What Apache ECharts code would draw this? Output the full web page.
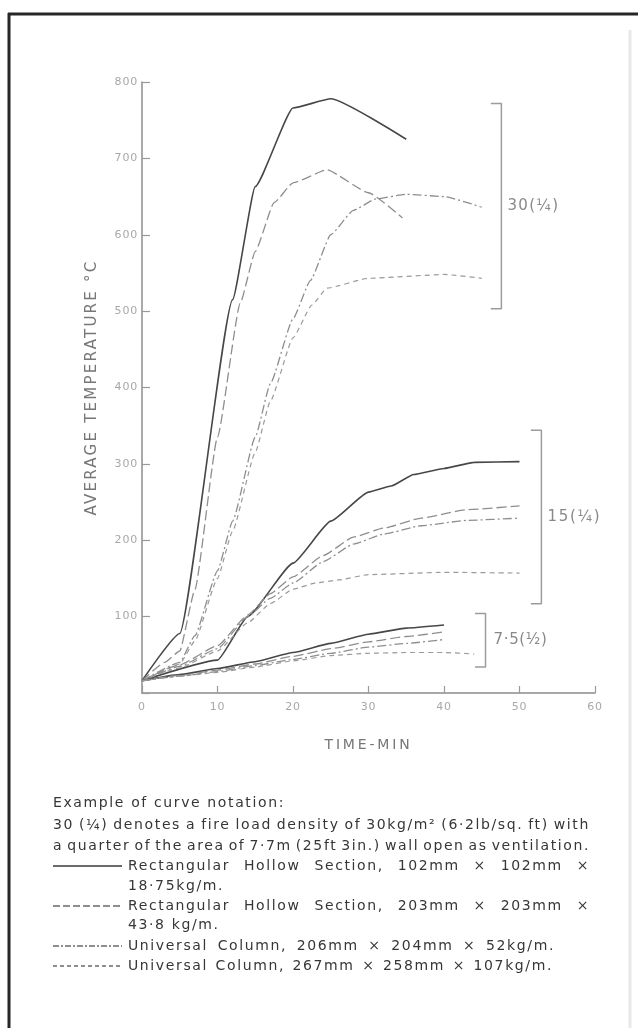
<!DOCTYPE html>
<html><head><meta charset="utf-8">
<script src="https://cdn.jsdelivr.net/npm/echarts@6/dist/echarts.min.js"></script>
<style>html,body{margin:0;padding:0;background:#fff;}#chart{width:638px;height:1028px;}</style>
</head><body><div id="chart"></div>
<script>
// ---------------- DATA ----------------
// time (min) / average temperature (°C) pairs
const rhs102_30 = [[0,16],[5,78],[12,515],[15,663],[20,766],[25,778],[35,725]];
const rhs203_30 = [[0,16],[3,40],[5,55],[7,135],[10,335],[13,510],[15,578],[17.5,642],[20,668],[24.5,685],[30,655],[34.5,622]];
const uc206_30  = [[0,16],[5,40],[7,75],[10,160],[12,225],[15,335],[17,405],[20,490],[22.3,540],[25,600],[28,632],[31,647],[35,653],[40,650],[45,636]];
const uc267_30  = [[0,16],[5,38],[7,68],[10,150],[12,212],[15,315],[17,382],[20,465],[22.5,508],[24.5,530],[30,543],[40,548],[45,543]];

const rhs102_15 = [[0,16],[10,43],[14,100],[20,170],[25,225],[30,263],[33,271],[36,286],[40,294],[44,302],[50,303]];
const rhs203_15 = [[0,16],[5,37],[10,62],[14,102],[17,130],[20,152],[24,180],[28,204],[32,216],[37,229],[43,240],[50,245]];
const uc206_15  = [[0,16],[5,35],[10,58],[14,100],[17,124],[20,144],[24,172],[28,195],[32,208],[37,219],[43,226],[50,229]];
const uc267_15  = [[0,16],[5,33],[10,55],[14,92],[17,117],[20,136],[23,144],[26,148],[30,155],[40,158],[50,157]];

const rhs102_7 = [[0,16],[5,24],[10,32],[15,41],[20,53],[25,65],[30,77],[35,85],[40,89]];
const rhs203_7 = [[0,16],[5,23],[10,30],[15,38],[20,48],[25,58],[30,67],[35,74],[40,80]];
const uc206_7  = [[0,16],[5,22],[10,28],[15,36],[20,44],[25,52],[30,60],[35,65],[40,70]];
const uc267_7  = [[0,16],[5,22],[10,27],[15,34],[20,42],[25,49],[30,52],[35,53],[40,53],[44,51]];

// bracket annotations: time position, low / high temperature, label
const bracketTime   = [47.6, 52.9, 45.5];
const bracketLow    = [503, 117, 34];
const bracketHigh   = [772, 344, 104];
const bracketLabels = ['30(¼)', '15(¼)', '7·5(½)'];

const xTitle = 'TIME-MIN';
const yTitle = 'AVERAGE TEMPERATURE °C';
const notationTitle = 'Example of curve notation:';
const notationLines = [
  '30 (¼) denotes a fire load density of 30kg/m² (6·2lb/sq. ft) with',
  'a quarter of the area of 7·7m (25ft 3in.) wall open as ventilation.'
];
const legendNames = [
  ['Rectangular Hollow Section, 102mm × 102mm ×', '18·75kg/m.'],
  ['Rectangular Hollow Section, 203mm × 203mm ×', '43·8 kg/m.'],
  ['Universal Column, 206mm × 204mm × 52kg/m.'],
  ['Universal Column, 267mm × 258mm × 107kg/m.']
];

// ---------------- letter / word spacing support ----------------
(function(){
  const proto = CanvasRenderingContext2D.prototype;
  const d = Object.getOwnPropertyDescriptor(proto, 'font');
  if (!d) return;
  const parse = (re, v) => { const m = re.exec(v); if (!m) return 0; return (m[1] ? -1 : 1) * parseFloat(m[2] + '.' + m[3]); };
  Object.defineProperty(proto, 'font', {
    configurable: true, enumerable: d.enumerable,
    get(){ return d.get.call(this); },
    set(v){
      d.set.call(this, v);
      if ('letterSpacing' in this) this.letterSpacing = parse(/ls(n?)(\d+)_(\d+)/, v) + 'px';
      if ('wordSpacing' in this) this.wordSpacing = parse(/ws(n?)(\d+)_(\d+)/, v) + 'px';
    }
  });
})();
const BASE = '"DejaVu Sans"';
function enc(v){ return (v < 0 ? 'n' : '') + Math.abs(v).toFixed(2).replace('.', '_'); }
function fam(ls, ws){ return BASE + ', ls' + enc(ls || 0) + ', ws' + enc(ws || 0) + ', sans-serif'; }
const mctx = document.createElement('canvas').getContext('2d');
function measure(text, size, ls, ws){ mctx.font = size + 'px ' + fam(ls, ws); return mctx.measureText(text).width; }
function lsFit(text, size, target){ return Math.max(0, (target - measure(text, size, 0, 0)) / text.length); }
function wsFit(text, size, ls, target){
  const n = (text.match(/ /g) || []).length; if (!n) return 0;
  return (target - measure(text, size, ls, 0)) / n;
}

// ---------------- series ----------------
const STY = {
  solid:  {color:'#474747', width:1.6, type:'solid'},
  long:   {color:'#8e8e8e', width:1.3, type:[10,4]},
  dashdot:{color:'#8e8e8e', width:1.3, type:[9,3,2,3]},
  short:  {color:'#9a9a9a', width:1.2, type:[5,4]}
};
const curves = [
  [rhs102_30,'solid'],[rhs203_30,'long'],[uc206_30,'dashdot'],[uc267_30,'short'],
  [rhs102_15,'solid'],[rhs203_15,'long'],[uc206_15,'dashdot'],[uc267_15,'short'],
  [rhs102_7,'solid'],[rhs203_7,'long'],[uc206_7,'dashdot'],[uc267_7,'short']
];
const series = curves.map(([d, k]) => ({
  type:'line', data:d, symbol:'none', smooth:0.15, smoothMonotone:'x', silent:true,
  lineStyle:{color:STY[k].color, width:STY[k].width, type:STY[k].type}
}));
const SERIF = 1.4;
bracketTime.forEach((t, i) => {
  series.push({
    type:'line', symbol:'none', silent:true,
    lineStyle:{color:'#9c9c9c', width:1.5},
    data:[[t - SERIF, bracketHigh[i]], [t, bracketHigh[i]], [t, bracketLow[i]], [t - SERIF, bracketLow[i]]]
  });
});
const labelTargets = [52, 54, 54];
const labelDist = [6, 6, 8];
series.push({
  type:'scatter', symbolSize:0, silent:true,
  data: bracketTime.map((t, i) => ({
    value:[t, (bracketLow[i] + bracketHigh[i]) / 2], name: bracketLabels[i],
    label:{show:true, position:'right', distance:labelDist[i], formatter:'{b}', color:'#6a6a6a', fontSize:15,
      fontFamily: fam(lsFit(bracketLabels[i], 15, labelTargets[i]), 0)}
  }))
});

// ---------------- legend / notation text ----------------
const TXT = '#363636', FS = 14;
const lsText = lsFit(notationTitle, FS, 232);
function textEl(text, x, y, target){
  const ws = target ? wsFit(text, FS, lsText, target) : 0;
  return {type:'text', silent:true, style:{text, x, y, fill:TXT, verticalAlign:'middle', align:'left',
    font: FS + 'px ' + fam(lsText, ws)}};
}
const g = [];
// frame
g.push({type:'line', silent:true, shape:{x1:8, y1:14, x2:638, y2:14}, style:{stroke:'#262626', lineWidth:3}});
g.push({type:'line', silent:true, shape:{x1:9, y1:13, x2:9, y2:1028}, style:{stroke:'#262626', lineWidth:3}});
g.push({type:'line', silent:true, shape:{x1:630, y1:30, x2:630, y2:1028}, style:{stroke:'#e8e8e8', lineWidth:3}});
g.push(textEl(notationTitle, 53, 803));
g.push(textEl(notationLines[0], 53, 825, 537));
g.push(textEl(notationLines[1], 53, 846, 537));
const rowY = [[866, 886], [906, 925], [946], [966]];
const rowTarget = [462, 462, 427, 425];
const sampleDash = [null, [7,3], [6,2,2,2], [4,3]];
legendNames.forEach((lines, i) => {
  g.push({type:'line', silent:true, shape:{x1:53, y1:rowY[i][0], x2:122, y2:rowY[i][0]},
    style:{stroke: i === 0 ? '#3a3a3a' : '#6a6a6a', lineWidth:1.3, lineDash: sampleDash[i] || null}});
  g.push(textEl(lines[0], 128, rowY[i][0], rowTarget[i]));
  if (lines[1]) g.push(textEl(lines[1], 128, rowY[i][1]));
});

const option = {
  animation:false,
  grid:{left:142, right:43, top:82, bottom:335},
  xAxis:{
    type:'value', min:0, max:60, interval:10,
    axisLine:{show:true, lineStyle:{color:'#8c8c8c', width:1.5}},
    axisTick:{show:true, inside:true, length:7, lineStyle:{color:'#9a9a9a', width:1.2}},
    axisLabel:{color:'#a8a8a8', fontSize:11, margin:8, fontFamily:fam(0.8, 0)},
    splitLine:{show:false},
    name:xTitle, nameLocation:'middle', nameGap:44,
    nameTextStyle:{color:'#777', fontSize:14, fontFamily:fam(lsFit(xTitle, 14, 88), 0)}
  },
  yAxis:{
    type:'value', min:0, max:800, interval:100,
    axisLine:{show:true, lineStyle:{color:'#8c8c8c', width:1.5}},
    axisTick:{show:true, inside:true, length:8, lineStyle:{color:'#9a9a9a', width:1.2}},
    axisLabel:{color:'#a8a8a8', fontSize:11, margin:4, fontFamily:fam(0.8, 0), formatter:v => v === 0 ? '' : String(v)},
    splitLine:{show:false},
    name:yTitle, nameLocation:'middle', nameRotate:90, nameGap:41,
    nameTextStyle:{color:'#777', fontSize:15, fontFamily:fam(lsFit(yTitle, 15, 256), 0)}
  },
  series,
  graphic:g
};
const chart = echarts.init(document.getElementById('chart'), null, {renderer:'canvas'});
chart.setOption(option);
</script></body></html>
